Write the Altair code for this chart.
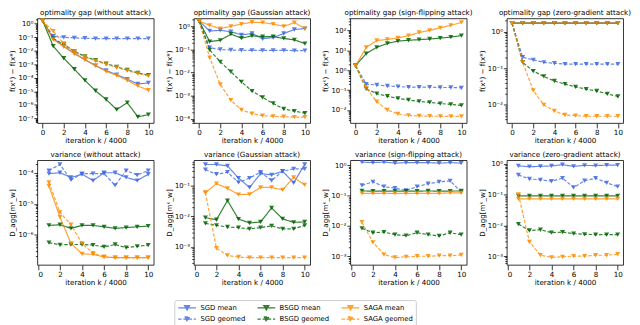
import altair as alt
import pandas as pd

# ---------------- data ----------------
iters_opt = list(range(0, 11))
iters_var = list(range(1, 11))

series_names = ["SGD mean", "SGD geomed", "BSGD mean", "BSGD geomed", "SAGA mean", "SAGA geomed"]
legend_order = ["SGD mean", "BSGD mean", "SAGA mean", "SGD geomed", "BSGD geomed", "SAGA geomed"]
legend_colors = ["#4169e1", "#006400", "#ff8c00", "#4169e1", "#006400", "#ff8c00"]
legend_dashes = [[1, 0], [1, 0], [1, 0], [3.5, 1.8], [3.5, 1.8], [3.5, 1.8]]

panel_titles = [
    "optimality gap (without attack)", "optimality gap (Gaussian attack)",
    "optimality gap (sign-flipping attack)", "optimality gap (zero-gradient attack)",
    "variance (without attack)", "variance (Gaussian attack)",
    "variance (sign-flipping attack)", "variance (zero-gradient attack)",
]

# optimality gap, without attack
opt_none_sgd_mean = [1.7, 0.08, 0.022, 0.0065, 0.0022, 8e-4, 3.5e-4, 1.7e-4, 8e-5, 3.5e-5, 4.2e-5]
opt_none_sgd_geomed = [1.7, 0.12, 0.1, 0.09, 0.085, 0.08, 0.08, 0.08, 0.08, 0.08, 0.08]
opt_none_bsgd_mean = [1.7, 0.022, 2.8e-3, 4.3e-4, 6.5e-5, 1.1e-5, 2.5e-6, 4.5e-7, 1.45e-6, 1.3e-7, 1.9e-7]
opt_none_bsgd_geomed = [1.7, 0.08, 0.03, 0.009, 3.8e-3, 2e-3, 1.1e-3, 6.5e-4, 3.8e-4, 2.3e-4, 1.6e-4]
opt_none_saga_mean = [1.7, 0.07, 0.02, 0.006, 2.2e-3, 8e-4, 3e-4, 1.5e-4, 6.5e-5, 2.5e-5, 1.2e-5]
opt_none_saga_geomed = [1.7, 0.28, 0.035, 0.0085, 3.5e-3, 1.8e-3, 1e-3, 5.8e-4, 3.4e-4, 2.1e-4, 1.4e-4]

# optimality gap, Gaussian attack
opt_gauss_sgd_mean = [1.7, 0.63, 0.67, 0.59, 0.43, 0.49, 0.29, 0.33, 0.49, 0.73, 0.8]
opt_gauss_sgd_geomed = [1.7, 0.12, 0.1, 0.095, 0.093, 0.092, 0.092, 0.092, 0.092, 0.09, 0.09]
opt_gauss_bsgd_mean = [1.7, 0.22, 0.25, 0.46, 0.31, 0.39, 0.36, 0.36, 0.3, 0.26, 0.18]
opt_gauss_bsgd_geomed = [1.7, 0.096, 0.029, 0.011, 4e-3, 1.6e-3, 8.5e-4, 4.7e-4, 2.7e-4, 2.2e-4, 1.8e-4]
opt_gauss_saga_mean = [1.7, 1.1, 0.8, 1.0, 1.25, 1.5, 1.45, 1.25, 1.0, 1.45, 0.8]
opt_gauss_saga_geomed = [1.7, 0.044, 3.1e-3, 6.5e-4, 2.5e-4, 1.7e-4, 1.4e-4, 1.3e-4, 1.25e-4, 1.2e-4, 1.2e-4]

# optimality gap, sign-flipping attack (SGD mean diverges, off the chart)
opt_sign_sgd_mean = None
opt_sign_sgd_geomed = [1.7, 0.2, 0.18, 0.16, 0.15, 0.14, 0.14, 0.14, 0.135, 0.135, 0.13]
opt_sign_bsgd_mean = [1.7, 6.8, 14, 22, 29, 32, 34, 37, 41, 46, 55]
opt_sign_bsgd_geomed = [1.7, 0.115, 0.066, 0.049, 0.038, 0.032, 0.027, 0.024, 0.021, 0.019, 0.017]
opt_sign_saga_mean = [1.7, 14, 31, 35, 42, 54, 78, 100, 135, 180, 250]
opt_sign_saga_geomed = [1.7, 0.13, 0.026, 0.01, 6.3e-3, 5.3e-3, 5e-3, 4.9e-3, 4.8e-3, 4.8e-3, 4.8e-3]

# optimality gap, zero-gradient attack
opt_zero_sgd_mean = [1.7, 1.7, 1.7, 1.7, 1.7, 1.7, 1.7, 1.7, 1.7, 1.7, 1.7]
opt_zero_sgd_geomed = [1.7, 0.2, 0.17, 0.145, 0.137, 0.13, 0.13, 0.13, 0.13, 0.13, 0.13]
opt_zero_bsgd_mean = [1.7, 1.7, 1.7, 1.7, 1.7, 1.7, 1.7, 1.7, 1.7, 1.7, 1.7]
opt_zero_bsgd_geomed = [1.7, 0.145, 0.084, 0.06, 0.045, 0.037, 0.031, 0.027, 0.024, 0.02, 0.017]
opt_zero_saga_mean = [1.7, 1.7, 1.7, 1.7, 1.7, 1.7, 1.7, 1.7, 1.7, 1.7, 1.7]
opt_zero_saga_geomed = [1.7, 0.145, 0.025, 0.01, 6.9e-3, 5.3e-3, 5.1e-3, 4.9e-3, 4.9e-3, 4.9e-3, 4.9e-3]

# variance, without attack
var_none_sgd_mean = [9.5e-5, 1.02e-4, 7.2e-5, 9.1e-5, 5.7e-5, 1.02e-4, 1.02e-4, 7.2e-5, 5.7e-5, 9.1e-5]
var_none_sgd_geomed = [1.2e-4, 1.9e-4, 6e-5, 9.5e-5, 9.5e-5, 9.5e-5, 4e-5, 1.2e-4, 8.6e-5, 1.2e-4]
var_none_bsgd_mean = [2.0e-6, 2.1e-6, 1.6e-6, 2.0e-6, 2.0e-6, 1.8e-6, 1.6e-6, 1.7e-6, 1.8e-6, 1.9e-6]
var_none_bsgd_geomed = [5.5e-7, 4.7e-7, 4.8e-7, 4.8e-7, 4.6e-7, 4.0e-7, 4.8e-7, 3.8e-7, 4.2e-7, 4.6e-7]
var_none_saga_mean = [3.8e-5, 3.7e-6, 5.2e-7, 2.4e-7, 2.3e-7, 1.9e-7, 1.8e-7, 1.8e-7, 1.8e-7, 1.8e-7]
var_none_saga_geomed = [5e-5, 5.3e-6, 2.1e-6, 5.2e-7, 2.5e-7, 1.9e-7, 1.8e-7, 1.8e-7, 1.8e-7, 1.8e-7]

# variance, Gaussian attack
var_gauss_sgd_mean = [0.5, 0.5, 0.45, 0.18, 0.089, 0.25, 0.23, 0.3, 0.126, 0.5]
var_gauss_sgd_geomed = [0.34, 0.24, 0.28, 0.13, 0.18, 0.28, 0.15, 0.3, 0.36, 0.36]
var_gauss_bsgd_mean = [0.0091, 0.0078, 0.033, 0.0082, 0.0061, 0.0066, 0.019, 0.0083, 0.0064, 0.0066]
var_gauss_bsgd_geomed = [0.0059, 0.0051, 0.0045, 0.0043, 0.0039, 0.0043, 0.0049, 0.0039, 0.0039, 0.0051]
var_gauss_saga_mean = [0.06, 0.118, 0.083, 0.052, 0.053, 0.089, 0.089, 0.074, 0.19, 0.107]
var_gauss_saga_geomed = [0.06, 9.1e-4, 5.3e-4, 4.7e-4, 4.5e-4, 4.5e-4, 4.5e-4, 4.5e-4, 4.5e-4, 4.5e-4]

# variance, sign-flipping attack
var_sign_sgd_mean = [1.3, 1.25, 1.3, 1.2, 1.25, 1.25, 1.25, 1.2, 1.25, 1.2]
var_sign_sgd_geomed = [0.22, 0.29, 0.2, 0.18, 0.15, 0.2, 0.25, 0.29, 0.31, 0.135]
var_sign_bsgd_mean = [0.145, 0.142, 0.143, 0.142, 0.143, 0.142, 0.145, 0.142, 0.143, 0.145]
var_sign_bsgd_geomed = [0.0084, 0.006, 0.0063, 0.0052, 0.0048, 0.006, 0.0052, 0.0047, 0.006, 0.0052]
var_sign_saga_mean = [0.12, 0.12, 0.12, 0.12, 0.12, 0.12, 0.12, 0.12, 0.125, 0.125]
var_sign_saga_geomed = [0.0134, 0.0029, 0.00114, 9.1e-4, 9.5e-4, 1e-3, 1e-3, 1.05e-3, 1.05e-3, 1.1e-3]

# variance, zero-gradient attack
var_zero_sgd_mean = [0.85, 0.8, 0.82, 0.85, 0.93, 0.82, 0.88, 0.87, 0.9, 0.9]
var_zero_sgd_geomed = [0.43, 0.32, 0.3, 0.27, 0.34, 0.17, 0.28, 0.34, 0.24, 0.18]
var_zero_bsgd_mean = [0.09, 0.09, 0.09, 0.09, 0.09, 0.09, 0.09, 0.09, 0.09, 0.09]
var_zero_bsgd_geomed = [0.011, 0.0068, 0.0072, 0.0058, 0.006, 0.0054, 0.0051, 0.005, 0.005, 0.005]
var_zero_saga_mean = [0.072, 0.072, 0.072, 0.072, 0.072, 0.072, 0.072, 0.072, 0.072, 0.072]
var_zero_saga_geomed = [0.1, 0.0029, 1.07e-3, 9.1e-4, 9.5e-4, 1e-3, 1e-3, 1.07e-3, 1.07e-3, 1.15e-3]

# y-axis ranges of each panel
y_domains = [
    [4.5e-8, 2.5], [6.7e-5, 2.2], [2.2e-3, 400], [3.2e-3, 2.3],
    [1.05e-7, 2.6e-4], [2.6e-4, 0.69], [5.2e-4, 1.5], [5.2e-4, 1.3],
]
x_ticks = [0, 2, 4, 6, 8, 10]

# ---------------- chart ----------------
FONT = "DejaVu Sans"
FS = 7.3
PW, PH = 119, 107

SUP = "['⁰','¹','²','³','⁴','⁵','⁶','⁷','⁸','⁹']"
EXP = "round(log(datum.value)/LN10)"
IS_MAJOR = f"abs(log(datum.value)/LN10 - {EXP}) < 0.001"
LABEL_EXPR = f"{IS_MAJOR} ? '10' + ({EXP} < 0 ? '⁻' : '') + {SUP}[abs({EXP})] : ''"

LEG_PATH = "M-1,0H4.2M0.85,-0.65H2.35L1.6,0.65Z"


def log_ticks(lo, hi):
    import math
    vals = []
    for e in range(math.floor(math.log10(lo)) - 1, math.ceil(math.log10(hi)) + 1):
        for k in range(1, 10):
            v = k * 10.0 ** e
            if lo <= v <= hi:
                vals.append(float(f"{v:.6g}"))
    return vals


def make_panel(title, xs, lists, ydom, ytitle, xdom):
    rows = []
    for name, vals in zip(series_names, lists):
        if vals is None:
            continue
        for x, v in zip(xs, vals):
            rows.append({"iter": x, "value": v, "series": name})
    df = pd.DataFrame(rows)
    legend = alt.Legend(
        title=None, orient="none", legendX=140, legendY=288,
        direction="horizontal", columns=3, symbolType=LEG_PATH, symbolSize=49,
        symbolStrokeWidth=1.2, labelFontSize=7, labelFont=FONT, labelColor="black",
        labelOffset=14.7, columnPadding=9, rowPadding=1, padding=3,
        strokeColor="#cccccc", cornerRadius=2, fillColor="white",
    )
    x = alt.X("iter:Q", scale=alt.Scale(domain=xdom, nice=False, zero=False),
              axis=alt.Axis(values=x_ticks, title="iteration k / 4000", format="d"))
    y = alt.Y("value:Q", scale=alt.Scale(type="log", domain=ydom, nice=False),
              axis=alt.Axis(values=log_ticks(*ydom), labelExpr=LABEL_EXPR, title=ytitle, labelFontSize=7,
                            tickSize={"condition": {"test": IS_MAJOR, "value": 3.5}, "value": 2}))
    color = alt.Color("series:N", scale=alt.Scale(domain=legend_order, range=legend_colors), legend=legend)
    dash = alt.StrokeDash("series:N", scale=alt.Scale(domain=legend_order, range=legend_dashes), legend=legend)
    base = alt.Chart(df, title=alt.Title(title, fontSize=FS, font=FONT, fontWeight="normal",
                                         color="black", offset=2))
    line = base.mark_line(strokeWidth=1.2, opacity=0.8).encode(x=x, y=y, color=color, strokeDash=dash)
    pts = base.mark_point(shape="triangle-down", filled=True, size=26, opacity=0.85).encode(
        x=x, y=y, color=color)
    return alt.layer(line, pts).properties(width=PW, height=PH)


opt_lists = [
    [opt_none_sgd_mean, opt_none_sgd_geomed, opt_none_bsgd_mean, opt_none_bsgd_geomed, opt_none_saga_mean, opt_none_saga_geomed],
    [opt_gauss_sgd_mean, opt_gauss_sgd_geomed, opt_gauss_bsgd_mean, opt_gauss_bsgd_geomed, opt_gauss_saga_mean, opt_gauss_saga_geomed],
    [opt_sign_sgd_mean, opt_sign_sgd_geomed, opt_sign_bsgd_mean, opt_sign_bsgd_geomed, opt_sign_saga_mean, opt_sign_saga_geomed],
    [opt_zero_sgd_mean, opt_zero_sgd_geomed, opt_zero_bsgd_mean, opt_zero_bsgd_geomed, opt_zero_saga_mean, opt_zero_saga_geomed],
]
var_lists = [
    [var_none_sgd_mean, var_none_sgd_geomed, var_none_bsgd_mean, var_none_bsgd_geomed, var_none_saga_mean, var_none_saga_geomed],
    [var_gauss_sgd_mean, var_gauss_sgd_geomed, var_gauss_bsgd_mean, var_gauss_bsgd_geomed, var_gauss_saga_mean, var_gauss_saga_geomed],
    [var_sign_sgd_mean, var_sign_sgd_geomed, var_sign_bsgd_mean, var_sign_bsgd_geomed, var_sign_saga_mean, var_sign_saga_geomed],
    [var_zero_sgd_mean, var_zero_sgd_geomed, var_zero_bsgd_mean, var_zero_bsgd_geomed, var_zero_saga_mean, var_zero_saga_geomed],
]

top = [make_panel(panel_titles[i], iters_opt, opt_lists[i], y_domains[i], "f(xᵏ) − f(x*)", [-0.5, 10.5])
       for i in range(4)]
bottom = [make_panel(panel_titles[4 + i], iters_var, var_lists[i], y_domains[4 + i], "D_agg[mᵏ_w]", [-0.05, 10.5])
          for i in range(4)]

chart = alt.concat(
    *(top + bottom), columns=4, spacing={"row": 38, "column": 41}, bounds="flush",
).resolve_scale(color="shared", strokeDash="shared").properties(
    padding={"left": 0, "top": -4, "right": 0, "bottom": 0}, background="white",
).configure_view(stroke="black", strokeWidth=0.8).configure_axis(
    domain=False, grid=False, tickColor="black", tickWidth=0.8,
    labelFont=FONT, labelFontSize=FS, labelColor="black", labelPadding=1,
    titleFont=FONT, titleFontSize=FS, titleFontWeight="normal", titleColor="black", titlePadding=1,
)

chart.save("out.html", embed_options={"renderer": "svg", "actions": False})
